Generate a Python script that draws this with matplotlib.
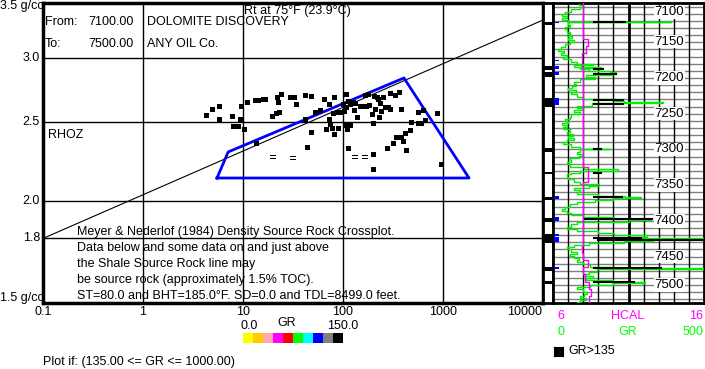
import matplotlib
matplotlib.use("Agg")
import matplotlib.pyplot as plt
import numpy as np
from matplotlib.transforms import blended_transform_factory

plt.rcParams["font.family"] = ["Liberation Sans", "DejaVu Sans"]
plt.rcParams["font.size"] = 9

W, H = 705, 369

# crossplot data (Rt at 75F vs RHOZ)
rt = [4.27, 4.90, 5.75, 5.75, 7.7, 9.33, 7.9, 8.85, 10.2, 9.55, 10.9,
      13.2, 14.2, 15.7, 16.7, 19.4, 21.3, 22.9, 21.7, 24.0, 22.6,
      29.5, 32.6, 33.9, 41.7, 47.9, 41.7, 52.5, 58.9, 65.1, 72.4, 81.3,
      78.9, 86.4, 95.5, 102, 73.0, 74.1, 67.1, 77.1, 88.5, 104.7, 117.5,
      110.5, 81.3, 47.9, 43.3, 106.4, 113, 100.8, 106.4, 117.5, 126.8,
      131.8, 129.8, 149, 159.7, 168.6, 166, 179, 205.6, 217, 180.6,
      210.5, 234.4, 225.6, 253, 263, 284, 295, 196, 230.8, 239.9,
      297.4, 333.7, 363, 380, 137, 201, 111.4, 201, 273.3, 314, 338.8,
      377.6, 401, 426.6, 417, 467.7, 478.6, 558, 598, 660.7, 558, 626,
      864.5, 198, 955, 13.5]
rhoz = [2.551, 2.595, 2.620, 2.524, 2.546, 2.524, 2.475, 2.475, 2.454,
        2.620, 2.650, 2.662, 2.662, 2.669, 2.669, 2.546, 2.568, 2.573,
        2.687, 2.709, 2.650, 2.687, 2.687, 2.630, 2.702, 2.694, 2.522,
        2.575, 2.588, 2.667, 2.635, 2.682, 2.563, 2.575, 2.575, 2.582,
        2.520, 2.487, 2.452, 2.461, 2.461, 2.477, 2.482, 2.449, 2.415,
        2.429, 2.333, 2.709, 2.652, 2.630, 2.612, 2.630, 2.650, 2.637,
        2.588, 2.620, 2.620, 2.617, 2.702, 2.704, 2.694, 2.687, 2.622,
        2.597, 2.642, 2.667, 2.682, 2.612, 2.607, 2.592, 2.558, 2.539,
        2.582, 2.717, 2.702, 2.724, 2.595, 2.534, 2.496, 2.326, 2.285,
        2.324, 2.355, 2.399, 2.395, 2.370, 2.311, 2.427, 2.445, 2.503,
        2.496, 2.496, 2.515, 2.575, 2.588, 2.568, 2.193, 2.222, 2.355]

# faint double-dash points
dash_rt = [20, 31.6, 132, 166]
dash_rhoz = [2.265, 2.262, 2.265, 2.265]

shale_line_rt = [0.1, 10000]
shale_line_rhoz = [1.8, 3.336]

zone_rt = [5.5, 7.1, 407, 1820, 5.5]
zone_rhoz = [2.135, 2.298, 2.832, 2.135, 2.135]

x_ticks = [0.1, 1, 10, 100, 1000]
x_tick_labels = ["0.1", "1", "10", "100", "1000"]
y_grid = [3.0, 2.5, 2.0, 1.8]
y_tick_labels = ["3.0", "2.5", "2.0", "1.8"]

gr_colors = ["#ffff00", "#ffcc00", "#ffaaaa", "#ff00ff", "#ff0000",
             "#00ff00", "#00ffff", "#0000ff", "#808080", "#000000"]

note_lines = [
    "Meyer & Nederlof (1984) Density Source Rock Crossplot.",
    "Data below and some data on and just above",
    "the Shale Source Rock line may",
    "be source rock (approximately 1.5% TOC).",
    "ST=80.0 and BHT=185.0\u00b0F. SD=0.0 and TDL=8499.0 feet.",
]

# depth track data
gr_depth = [7095, 7098, 7101, 7104, 7107, 7110, 7113, 7116, 7119, 7121.5,
            7122.3, 7126, 7129, 7132, 7135, 7138, 7141, 7144, 7147, 7150,
            7153, 7156, 7159, 7162, 7165, 7168, 7171, 7174, 7177, 7180,
            7182, 7184, 7186, 7188, 7190, 7192, 7194, 7196, 7199, 7202,
            7205, 7208, 7211, 7214, 7217, 7220, 7223, 7226, 7229, 7232,
            7234, 7234.8, 7239, 7242, 7245, 7248, 7251, 7254, 7257, 7260,
            7263, 7266, 7269, 7272, 7275, 7278, 7281, 7284, 7287, 7290,
            7293, 7296, 7299, 7300, 7303, 7306, 7309, 7312, 7315, 7318,
            7321, 7324, 7327, 7328, 7330, 7333, 7334, 7339, 7342, 7345,
            7348, 7351, 7354, 7357, 7360, 7363, 7365, 7366.5, 7368, 7371,
            7374, 7377, 7380, 7383, 7386, 7389, 7392, 7395, 7397, 7399,
            7402, 7405, 7408, 7411, 7414, 7417, 7420, 7422, 7424, 7426,
            7428, 7431, 7434, 7437, 7440, 7443, 7446, 7449, 7452, 7455,
            7458, 7461, 7464, 7466, 7467, 7471, 7474, 7477, 7480, 7483,
            7485, 7487, 7490, 7493, 7496, 7499, 7502, 7505, 7508, 7511,
            7514]
gr_value = [85, 95, 90, 60, 40, 30, 45, 30, 50, 391,
            50, 55, 40, 48, 55, 45, 62, 50, 68, 55,
            40, 25, 18, 35, 28, 45, 34, 60, 80, 132,
            70, 160, 90, 120, 190, 210, 195, 110, 140, 90,
            68, 75, 62, 51, 75, 60, 80, 100, 201, 235,
            364, 130, 79, 95, 70, 88, 60, 57, 40, 50,
            30, 45, 34, 55, 46, 65, 50, 70, 46, 34,
            60, 90, 190, 90, 79, 95, 85, 57, 60, 46,
            55, 101, 160, 215, 90, 60, 45, 51, 70, 90,
            151, 120, 68, 90, 79, 150, 240, 290, 200, 140,
            79, 57, 40, 30, 46, 60, 100, 201, 325, 250,
            79, 60, 46, 80, 150, 201, 312, 250, 500, 330,
            235, 120, 68, 46, 60, 79, 55, 68, 85, 79,
            100, 124, 200, 500, 145, 120, 101, 134, 110, 200,
            303, 200, 124, 79, 100, 112, 101, 90, 110, 90,
            80]

hcal_depth = list(range(7095, 7520, 10))
hcal = [8.0, 8.0, 8.0, 8.0, 8.0, 8.3, 8.2, 7.9, 7.9, 8.0, 8.0, 8.0, 8.0,
        8.0, 8.0, 8.0, 8.0, 8.0, 8.0, 8.0, 8.0, 8.0, 8.0, 8.3, 8.3, 8.0,
        8.0, 8.0, 8.0, 8.0, 8.0, 8.0, 8.0, 8.0, 7.9, 8.0, 8.3, 8.0, 8.1,
        8.4, 8.5, 8.4, 8.3]

hot_depth = [7122, 7188, 7194, 7231, 7236, 7299, 7333, 7367, 7398, 7424,
             7427, 7466, 7485]
hot_start = [135, 135, 135, 135, 135, 135, 135, 135, 103, 135, 150, 135, 135]
hot_end = [240, 165, 207, 233, 233, 160, 160, 230, 327, 290, 500, 358, 268]

flag_top = [7121, 7183, 7192, 7228, 7298, 7331, 7366, 7396, 7419, 7464, 7484]
flag_bottom = [7126, 7189, 7198, 7240, 7303, 7334, 7371, 7401, 7431, 7470, 7488]

blue_top = [7121, 7175, 7183, 7192, 7228, 7365, 7395, 7419, 7423, 7464]
blue_bottom = [7123, 7176, 7187, 7196, 7238, 7369, 7400, 7421, 7430, 7467]

depth_labels = [7100, 7150, 7200, 7250, 7300, 7350, 7400, 7450, 7500]
depth_label_pos = [7108, 7149, 7200, 7250, 7300, 7350, 7400, 7450, 7490]

fig = plt.figure(figsize=(W / 100, H / 100), dpi=100)


def px_axes(x0, y0, x1, y1):
    return fig.add_axes([x0 / W, 1 - y1 / H, (x1 - x0) / W, (y1 - y0) / H])


# ---- crossplot
ax = px_axes(43, 3, 543, 303)
ax.set_xscale("log")
ax.set_yscale("log")
ax.set_xlim(0.1, 10000)
ax.set_ylim(1.5, 3.5)
ax.set_xticks([])
ax.set_yticks([])
ax.minorticks_off()
for s in ax.spines.values():
    s.set_linewidth(2.5)

for x in x_ticks[1:]:
    ax.axvline(x, color="black", lw=1.0, zorder=1)
for y in y_grid:
    ax.axhline(y, color="black", lw=1.0, zorder=1)

ax.plot(shale_line_rt, shale_line_rhoz, color="black", lw=0.8, zorder=2)
ax.plot(zone_rt, zone_rhoz, color="#0000ff", lw=2, zorder=3)
ax.plot(rt, rhoz, "s", color="black", ms=3.6, mew=0, zorder=4)
ax.plot(dash_rt, dash_rhoz, linestyle="none", marker="$=$", color="black",
        ms=5, mew=0, zorder=4)

bx = blended_transform_factory(ax.transData, fig.transFigure)
for x, lab in zip(x_ticks, x_tick_labels):
    ax.text(x, 1 - 312 / H, lab, transform=bx, ha="center", va="center")
fig.text(542 / W, 1 - 312 / H, "10000", ha="right", va="center")

by = blended_transform_factory(fig.transFigure, ax.transData)
for y, lab in zip(y_grid, y_tick_labels):
    ax.text(40 / W, y, lab, transform=by, ha="right", va="center")
fig.text(0.5 / W, 1 - 0.5 / H, "3.5 g/cc", ha="left", va="top")
fig.text(0.5 / W, 1 - 304 / H, "1.5 g/cc", ha="left", va="bottom")

fig.text(45 / W, 1 - 22 / H, "From:", va="center")
fig.text(88 / W, 1 - 22 / H, "7100.00", va="center")
fig.text(147 / W, 1 - 22 / H, "DOLOMITE DISCOVERY", va="center")
fig.text(45 / W, 1 - 44 / H, "To:", va="center")
fig.text(88 / W, 1 - 44 / H, "7500.00", va="center")
fig.text(147 / W, 1 - 44 / H, "ANY OIL Co.", va="center")
fig.text(244 / W, 1 - 11 / H, "Rt at 75\u00b0F (23.9\u00b0C)", va="center")
fig.text(48 / W, 1 - 135 / H, "RHOZ", va="center")
for i, line in enumerate(note_lines):
    fig.text(77 / W, 1 - (232 + 16 * i) / H, line, va="center")

# ---- GR colour key
fig.text(287 / W, 1 - 323 / H, "GR", ha="center", va="center")
fig.text(249 / W, 1 - 326 / H, "0.0", ha="center", va="center")
fig.text(343 / W, 1 - 326 / H, "150.0", ha="center", va="center")
kax = px_axes(243, 333, 343, 343)
for i, c in enumerate(gr_colors):
    kax.axvspan(i, i + 1, color=c, lw=0)
kax.set_xlim(0, len(gr_colors))
kax.axis("off")
fig.text(43 / W, 1 - 362 / H, "Plot if: (135.00 <= GR <= 1000.00)", va="center")

# ---- flag column
fax = px_axes(543, 3, 553, 303)
fax.set_ylim(7515, 7095)
fax.set_xlim(0, 1)
fax.set_xticks([])
fax.set_yticks([])
for s in fax.spines.values():
    s.set_linewidth(2)
for t, b in zip(flag_top, flag_bottom):
    fax.axhspan(t, b, color="black", lw=0)

# ---- depth track
tax = px_axes(553, 3, 704, 303)
tax.set_xlim(0, 500)
tax.set_ylim(7515, 7095)
tax.set_xticks([])
tax.set_yticks([])
for s in tax.spines.values():
    s.set_linewidth(2)
for d in range(7100, 7520, 10):
    tax.axhline(d, color="#808080", lw=1, zorder=1)
for x in range(50, 500, 50):
    tax.axvline(x, color="black", lw=2 if x == 250 else 1, zorder=1)

tax.plot(gr_value, gr_depth, color="#00ee00", lw=1, zorder=3, drawstyle="steps-pre")
for d, a, b in zip(hot_depth, hot_start, hot_end):
    tax.plot([a, b], [d, d], color="black", lw=1.5, zorder=4)
for t, b in zip(blue_top, blue_bottom):
    tax.axhspan(b, t, xmin=0, xmax=0.04, color="#0000ff", lw=0, zorder=4)

hax = tax.twiny()
hax.set_xlim(6, 16)
hax.set_xticks([])
hax.plot(hcal, hcal_depth, color="#ff00ff", lw=1, zorder=3, drawstyle="steps-pre")

for d, pos in zip(depth_labels, depth_label_pos):
    tax.text(385, pos, str(d), ha="center", va="center", fontsize=9.5, zorder=5,
             bbox=dict(facecolor="white", edgecolor="none", pad=0.5))

# ---- track legend
fig.text(557 / W, 1 - 316 / H, "6", color="#ff00ff", va="center")
fig.text(628 / W, 1 - 316 / H, "HCAL", color="#ff00ff", ha="center", va="center")
fig.text(703 / W, 1 - 316 / H, "16", color="#ff00ff", ha="right", va="center")
fig.text(557 / W, 1 - 332 / H, "0", color="#00ff00", va="center")
fig.text(628 / W, 1 - 332 / H, "GR", color="#00ff00", ha="center", va="center")
fig.text(703 / W, 1 - 332 / H, "500", color="#00ff00", ha="right", va="center")
lax = px_axes(554, 347, 563, 356)
lax.set_facecolor("black")
lax.set_xticks([])
lax.set_yticks([])
fig.text(568 / W, 1 - 351 / H, "GR>135", va="center")

fig.savefig("out.png", dpi=100)
